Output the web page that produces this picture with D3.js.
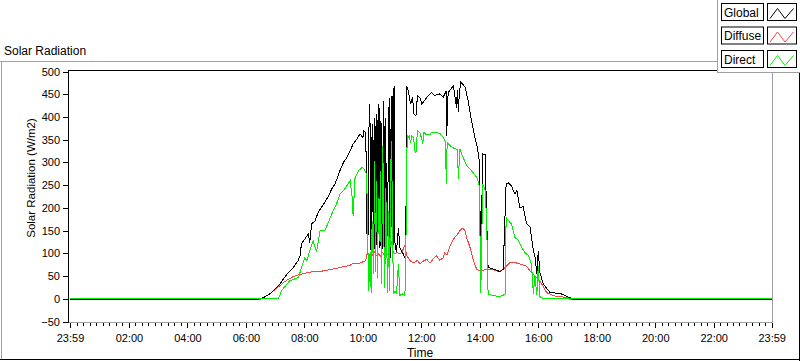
<!DOCTYPE html>
<html><head><meta charset="utf-8">
<script src="https://cdn.jsdelivr.net/npm/d3@7/dist/d3.min.js"></script>
<style>
body{margin:0;background:#fff;}
svg{display:block;font-family:"Liberation Sans",Arial,sans-serif;}
</style></head><body>
<svg id="c" width="800" height="361"></svg>
<script>
// ---- data (time in minutes after midnight, value in W/m2) ----
const seriesNames = ["Global", "Diffuse", "Direct"];
const seriesColors = ["#000000", "#ff4040", "#00ee00"];

const globalSeries = [[-1,0],[385,0],[396,4],[409,12],[420,23],[430,34],[437,45],[447,59],[457,70],[467,85],[471,96],[474,122],[481,133],[488,144],[491,125],[495,166],[502,173],[508,191],[515,202],[526,221],[530,228],[536,243],[543,254],[553,283],[560,301],[567,312],[574,327],[580,342],[588,353],[594,364],[600,356],[602,371],[606,367],[609,103],[611,151],[613,430],[615,380],[616,120],[617,103],[619,386],[621,173],[622,350],[623,110],[624,400],[625,380],[626,105],[627,140],[628,408],[629,120],[630,283],[631,390],[632,430],[633,180],[634,420],[635,114],[636,130],[637,393],[638,370],[639,144],[640,110],[641,320],[642,150],[643,437],[644,300],[645,114],[646,400],[647,356],[648,120],[649,300],[650,180],[651,140],[652,327],[653,380],[654,444],[655,200],[656,92],[657,120],[658,448],[659,400],[660,105],[661,300],[662,466],[663,120],[664,470],[665,460],[666,114],[669,105],[673,158],[676,114],[680,105],[683,100],[686,92],[688,103],[690,470],[693,459],[698,430],[702,444],[705,408],[709,404],[712,448],[717,444],[721,430],[724,434],[731,444],[741,455],[748,448],[751,450],[758,452],[765,445],[771,458],[772,360],[775,455],[786,470],[792,422],[794,460],[796,413],[798,455],[801,478],[810,467],[816,437],[823,393],[830,356],[835,334],[839,305],[842,74],[846,320],[851,318],[854,180],[857,70],[864,68],[875,64],[881,61],[888,66],[894,254],[899,256],[905,249],[912,232],[916,240],[922,202],[929,204],[936,166],[943,160],[950,107],[953,96],[957,56],[960,107],[963,61],[970,34],[984,15],[1005,13],[1018,7],[1032,0],[1439,0]];

const diffuseSeries = [[-1,0],[390,0],[396,4],[409,12],[420,22],[430,30],[437,37],[447,44],[457,50],[471,55],[491,60],[515,62],[536,66],[553,70],[574,75],[580,79],[594,80],[606,85],[609,103],[612,95],[616,100],[620,97],[624,104],[628,96],[632,100],[636,95],[640,103],[644,98],[648,100],[652,97],[656,104],[659,129],[662,105],[666,100],[670,103],[676,100],[680,104],[686,118],[690,96],[698,84],[705,80],[712,86],[717,78],[724,84],[731,88],[738,80],[745,90],[751,96],[758,86],[765,92],[768,103],[773,98],[779,118],[786,133],[792,140],[799,151],[805,157],[810,150],[813,136],[820,114],[827,85],[834,65],[844,63],[854,66],[867,65],[881,61],[892,70],[902,81],[912,81],[922,78],[936,73],[943,63],[953,52],[960,45],[967,34],[977,15],[991,8],[1018,4],[1025,0],[1439,0]];

const directSeries = [[-1,2],[427,2],[433,19],[450,41],[468,48],[474,70],[481,92],[485,85],[491,107],[498,129],[505,104],[512,151],[522,151],[529,169],[539,195],[546,210],[553,232],[563,243],[574,261],[578,224],[580,184],[584,268],[591,283],[598,290],[602,288],[606,280],[608,268],[610,136],[612,19],[615,105],[617,15],[619,173],[622,56],[624,305],[626,61],[628,261],[630,48],[632,224],[634,129],[636,283],[638,34],[641,338],[643,136],[645,26],[647,246],[649,122],[651,15],[653,195],[655,19],[657,283],[659,349],[661,136],[663,12],[666,19],[669,12],[673,78],[676,9],[681,12],[685,9],[688,26],[689,232],[691,360],[693,356],[695,360],[698,345],[700,360],[704,356],[707,327],[709,322],[712,371],[717,367],[721,352],[723,343],[725,367],[731,362],[738,363],[741,367],[751,367],[758,365],[765,356],[770,345],[771,254],[773,345],[779,338],[786,333],[794,330],[796,265],[799,331],[803,319],[813,294],[823,283],[834,268],[839,250],[842,15],[846,254],[851,240],[854,173],[857,12],[864,9],[881,6],[888,9],[892,12],[894,180],[899,173],[905,166],[912,136],[919,130],[926,114],[933,103],[940,96],[946,78],[950,12],[953,52],[957,9],[960,74],[963,6],[970,2],[1439,2]];

const xTickValues = [-1,120,240,360,480,600,720,840,960,1080,1200,1320,1439];
const xTickLabels = ["23:59","02:00","04:00","06:00","08:00","10:00","12:00","14:00","16:00","18:00","20:00","22:00","23:59"];
const yTickValues = [-50,0,50,100,150,200,250,300,350,400,450,500];
const chartTitle = "Solar Radiation";
const yTitle = "Solar Radiation (W/m2)";
const xTitle = "Time";

// ---- layout ----
const svg = d3.select("#c");
const L = 68, R = 772, T = 70, B = 322;
const x = d3.scaleLinear().domain([-1, 1439]).range([70, 771.7]);
const y = d3.scaleLinear().domain([-50, 500]).range([322.1, 72.1]);

// outer frame
svg.append("line").attr("x1",0).attr("x2",800).attr("y1",61.5).attr("y2",61.5).attr("stroke","#a0a0a0");
svg.append("line").attr("x1",1.5).attr("x2",1.5).attr("y1",61).attr("y2",360).attr("stroke","#a0a0a0");
svg.append("line").attr("x1",0).attr("x2",800).attr("y1",359.5).attr("y2",359.5).attr("stroke","#000");
svg.append("line").attr("x1",799.5).attr("x2",799.5).attr("y1",61).attr("y2",361).attr("stroke","#000");

// title
svg.append("text").attr("x",4).attr("y",55).attr("font-size",12).attr("fill","#000").text(chartTitle);

// plot frame
svg.append("line").attr("x1",R+0.5).attr("x2",R+0.5).attr("y1",T).attr("y2",B+1).attr("stroke","#a0a0a0");
svg.append("line").attr("x1",L).attr("x2",R+1).attr("y1",B+0.5).attr("y2",B+0.5).attr("stroke","#a0a0a0");
svg.append("line").attr("x1",L).attr("x2",R+1).attr("y1",T+0.5).attr("y2",T+0.5).attr("stroke","#000");
svg.append("line").attr("x1",L+0.5).attr("x2",L+0.5).attr("y1",T).attr("y2",B+1).attr("stroke","#000");

// y axis
const yAxis = d3.axisLeft(y).tickValues(yTickValues).tickSize(5).tickPadding(3).tickFormat(d3.format("d"));
const gy = svg.append("g").attr("transform",`translate(${L},-0.6)`).call(yAxis);
gy.select(".domain").remove();
gy.selectAll(".tick line").attr("stroke","#000").attr("shape-rendering","crispEdges");
gy.selectAll(".tick text").attr("font-size",11).attr("fill","#000").attr("font-family","Liberation Sans, Arial, sans-serif");

// x axis minor ticks
const minor = [];
for (let i = 0; i < xTickValues.length - 1; i++) {
  const a = xTickValues[i], b = xTickValues[i+1];
  for (let k = 1; k < 9; k++) minor.push(a + (b - a) * k / 9);
}
const gxm = svg.append("g").attr("transform",`translate(0,${B+1})`)
  .call(d3.axisBottom(x).tickValues(minor).tickSize(3).tickFormat(""));
gxm.select(".domain").remove();
gxm.selectAll(".tick line").attr("stroke","#000").attr("shape-rendering","crispEdges");

const xAxis = d3.axisBottom(x).tickValues(xTickValues).tickSize(5).tickPadding(6).tickFormat((d,i)=>xTickLabels[i]);
const gx = svg.append("g").attr("transform",`translate(0,${B+1})`).call(xAxis);
gx.select(".domain").remove();
gx.selectAll(".tick line").attr("stroke","#000").attr("shape-rendering","crispEdges");
gx.selectAll(".tick text").attr("font-size",11).attr("fill","#000").attr("font-family","Liberation Sans, Arial, sans-serif");

// axis titles
svg.append("text").attr("transform","translate(35,178) rotate(-90)").attr("text-anchor","middle")
  .attr("font-size",11.5).attr("fill","#000").text(yTitle);
svg.append("text").attr("x",420).attr("y",357).attr("text-anchor","middle")
  .attr("font-size",12).attr("fill","#000").text(xTitle);

// series (draw diffuse, global, direct)
const line = d3.line().x(d => x(d[0])).y(d => y(d[1]));
const plotG = svg.append("g");
const order = [[diffuseSeries,1],[globalSeries,0],[directSeries,2]];
order.forEach(([data, ci]) => {
  plotG.append("path").datum(data).attr("d", line).attr("fill","none")
    .attr("stroke", seriesColors[ci]).attr("stroke-width",1).attr("shape-rendering","crispEdges");
});

// legend
const lg = svg.append("g");
lg.append("rect").attr("x",717.5).attr("y",-1).attr("width",84).attr("height",73.5).attr("fill","#fff").attr("stroke","#a0a0a0");
seriesNames.forEach((name, i) => {
  const top = 3.5 + i * 23.5;
  lg.append("rect").attr("x",721.5).attr("y",top).attr("width",42).attr("height",17).attr("fill","#fff").attr("stroke","#000");
  lg.append("text").attr("x",724).attr("y",top+13).attr("font-size",12).attr("fill","#000").text(name);
  lg.append("rect").attr("x",767.5).attr("y",top).attr("width",29).attr("height",17).attr("fill","#fff").attr("stroke","#000");
  lg.append("polyline").attr("points",[[770,top+15],[777.5,top+5],[785,top+15],[793.5,top+5]].map(p=>p.join(",")).join(" "))
    .attr("fill","none").attr("stroke",seriesColors[i]).attr("stroke-width",1);
});
</script>
</body></html>
